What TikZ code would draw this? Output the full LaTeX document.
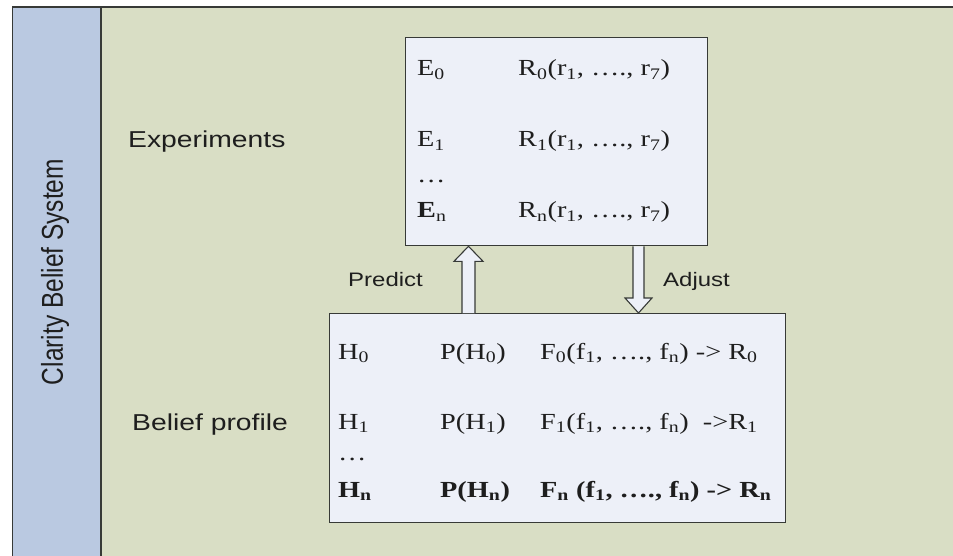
\documentclass[tikz,border=0pt]{standalone}
\usepackage{fontspec}
\setmainfont{Liberation Sans}
\newfontfamily\boxfont{Liberation Serif}
\usetikzlibrary{calc}

\definecolor{laneblue}{RGB}{186,201,225}
\definecolor{poolgreen}{RGB}{217,222,197}
\definecolor{boxfill}{RGB}{237,240,248}
\definecolor{boxline}{RGB}{55,58,55}
\definecolor{txt}{RGB}{30,30,30}

% the source picture is stretched sideways
\newcommand{\sx}[1]{\scalebox{1.23}[1]{#1}}

\begin{document}
\begin{tikzpicture}[x=1pt,y=-1pt,
  panel/.style={draw=boxline,fill=boxfill,line width=1.3pt,anchor=north west,inner sep=0},
  cell/.style={anchor=base west,inner sep=0,text=txt,font=\boxfont\fontsize{23}{27}\selectfont},
  lbl/.style={anchor=base west,inner sep=0,text=txt,font=\fontsize{23}{27}\selectfont},
  small/.style={anchor=base west,inner sep=0,text=txt,font=\fontsize{19.5}{23}\selectfont},
  hollow/.style={draw=boxline,fill=boxfill,line width=1.1pt,line join=miter}
]
  \useasboundingbox (0,0) rectangle (953,556);
  \fill[white] (0,0) rectangle (953,556);

  % Pool and lane
  \node[draw=boxline,fill=poolgreen,line width=1.5pt,anchor=north west,inner sep=0,
        minimum width=960pt,minimum height=560pt] (pool) at (11.5,6.5) {};
  \node[draw=boxline,fill=laneblue,line width=1.5pt,anchor=north west,inner sep=0,
        minimum width=88.5pt,minimum height=560pt] (lane) at (11.5,6.5) {};
  \node[rotate=90,text=txt,font=\fontsize{24.5}{28}\selectfont] (title) at (55,272)
    {\scalebox{1}[1.23]{Clarity Belief System}};

  % Side labels
  \node[lbl] (explbl) at (128,148) {\sx{Experiments}};
  \node[lbl] (belieflbl) at (132,430) {\sx{Belief profile}};

  % Boxes
  \node[panel,minimum width=302pt,minimum height=208pt] (exp) at (405,37) {};
  \node[panel,minimum width=456pt,minimum height=209pt] (belief) at (329,313) {};

  % Experiments rows
  \node[cell] (e0) at (417,76) {\sx{E\textsubscript{0}}};
  \node[cell] (r0) at (518,76) {\sx{R\textsubscript{0}(r\textsubscript{1}, …., r\textsubscript{7})}};
  \node[cell] (e1) at (417,147) {\sx{E\textsubscript{1}}};
  \node[cell] (r1) at (518,147) {\sx{R\textsubscript{1}(r\textsubscript{1}, …., r\textsubscript{7})}};
  \node[cell] (edots) at (417,183) {\sx{…}};
  \node[cell] (en) at (417,218) {\sx{\textbf{E}\textsubscript{n}}};
  \node[cell] (rn) at (518,218) {\sx{R\textsubscript{n}(r\textsubscript{1}, …., r\textsubscript{7})}};

  % Belief rows
  \node[cell] (h0) at (338,359) {\sx{H\textsubscript{0}}};
  \node[cell] (p0) at (440,359) {\sx{P(H\textsubscript{0})}};
  \node[cell] (f0) at (540,359) {\sx{F\textsubscript{0}(f\textsubscript{1}, …., f\textsubscript{n}) -> R\textsubscript{0}}};
  \node[cell] (h1) at (338,429) {\sx{H\textsubscript{1}}};
  \node[cell] (p1) at (440,429) {\sx{P(H\textsubscript{1})}};
  \node[cell] (f1) at (540,429) {\sx{F\textsubscript{1}(f\textsubscript{1}, …., f\textsubscript{n})~\ ->R\textsubscript{1}}};
  \node[cell] (hdots) at (338,460) {\sx{…}};
  \node[cell] (hn) at (338,497) {\sx{\textbf{H\textsubscript{n}}}};
  \node[cell] (pn) at (440,497) {\sx{\textbf{P(H\textsubscript{n})}}};
  \node[cell] (fn) at (540,497) {\sx{\textbf{F\textsubscript{n} (f\textsubscript{1}, …., f\textsubscript{n}) -> R\textsubscript{n}}}};

  % Arrows between the boxes
  \coordinate (px) at (468.5,0);
  \coordinate (ax) at (638.5,0);
  \draw[hollow] ($(belief.north -| px)+(-6.5,0)$) -- ($(exp.south -| px)+(-6.5,15)$) -- ++(-8,0)
    -- (exp.south -| px) -- ($(exp.south -| px)+(14.5,15)$) -- ++(-8,0) -- ($(belief.north -| px)+(6.5,0)$);
  \draw[hollow] ($(exp.south -| ax)+(-5.5,0)$) -- ($(belief.north -| ax)+(-5.5,-15)$) -- ++(-8,0)
    -- (belief.north -| ax) -- ($(belief.north -| ax)+(13.5,-15)$) -- ++(-8,0) -- ($(exp.south -| ax)+(5.5,0)$);
  \node[small] (predict) at (348,286) {\sx{Predict}};
  \node[small] (adjust) at (663,286) {\sx{Adjust}};
\end{tikzpicture}
\end{document}
